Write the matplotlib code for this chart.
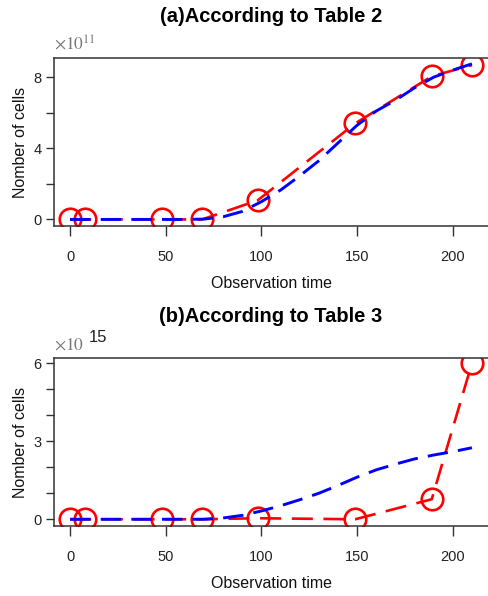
import matplotlib
matplotlib.use('Agg')
from matplotlib import pyplot as plt

plt.rcParams['font.family'] = ['Liberation Sans', 'DejaVu Sans']

# observation times with measured cell counts
obs_t = [0, 8, 48, 69, 98, 149, 189, 210]
obs_a = [0, 0, 0, 0, 1.07, 5.4, 8.05, 8.68]          # x 1e11, Table 2
obs_b = [0, 0, 0, 0, 0.04, 0.0, 0.77, 6.0]           # x 1e15, Table 3

# fitted model curves
fit_t = [0, 10, 20, 30, 40, 50, 60, 70, 80, 90, 100, 110, 120, 130, 140,
         150, 160, 170, 180, 190, 200, 210]
fit_a = [0, 0, 0, 0, 0, 0, 0, 0.02, 0.15, 0.45, 1.0, 1.65, 2.45, 3.3, 4.3,
         5.3, 6.1, 6.7, 7.4, 8.0, 8.4, 8.75]
fit_b = [0, 0, 0, 0, 0, 0, 0, 0.0, 0.05, 0.15, 0.32, 0.52, 0.75, 1.0, 1.3,
         1.62, 1.9, 2.12, 2.32, 2.47, 2.6, 2.75]

panels = [
    ('(a)According to Table 2', obs_a, fit_a, '11', (-0.37, 9.08),
     [0, 2, 4, 6, 8], ['0', '', '4', '', '8']),
    ('(b)According to Table 3', obs_b, fit_b, '15', (-0.26, 6.2),
     [0, 1, 2, 3, 4, 5, 6], ['0', '', '', '3', '', '', '6']),
]
bottoms = [0.6208, 0.1174]

fig = plt.figure(figsize=(4.88, 5.96), dpi=100)

for (title, obs, fit, expo, ylim, yt, ytl), b in zip(panels, bottoms):
    ax = fig.add_axes([0.1107, b, 0.8893, 0.2819])
    ax.plot(obs_t, obs, color='red', lw=1.9, dashes=(8, 4),
            marker='o', ms=15.5, mfc='none', mec='red', mew=1.9)
    ax.plot(fit_t, fit, color='blue', lw=2.1, dashes=(7, 3.5))
    ax.set_xlim(-8.4, 218.4)
    ax.set_ylim(*ylim)
    ax.set_xticks([0, 50, 100, 150, 200])
    ax.set_yticks(yt)
    ax.set_yticklabels(ytl)
    ax.spines['right'].set_visible(False)
    for s in ('left', 'top', 'bottom'):
        ax.spines[s].set_color('#333333')
        ax.spines[s].set_linewidth(1.1)
    ax.tick_params(axis='x', length=7, width=1.0, color='#333333',
                   pad=10, labelsize=10.5, labelcolor='#222222')
    ax.tick_params(axis='y', length=6, width=1.0, color='#333333',
                   pad=3, labelsize=10.5, labelcolor='#222222')
    ax.set_xlabel('Observation time', fontsize=11.5, labelpad=9,
                  color='#111111')
    ax.set_ylabel('Nomber of cells', fontsize=11.5, labelpad=4,
                  color='#111111')
    ax.set_title(title, fontsize=14.5, fontweight='bold', pad=26)
    # scale factor in the upper left corner
    if expo == '11':
        ax.text(0.0, 1.03, r'$\times10^{11}$', transform=ax.transAxes,
                fontsize=12.5, color='#777777', math_fontfamily='stix',
                ha='left', va='bottom')
    else:
        ax.text(0.0, 1.03, r'$\times10$', transform=ax.transAxes,
                fontsize=12.5, color='#777777', math_fontfamily='stix',
                ha='left', va='bottom')
        ax.text(0.08, 1.08, expo, transform=ax.transAxes,
                fontsize=12, color='#222222', ha='left', va='bottom')

fig.savefig('out.png', dpi=100)
